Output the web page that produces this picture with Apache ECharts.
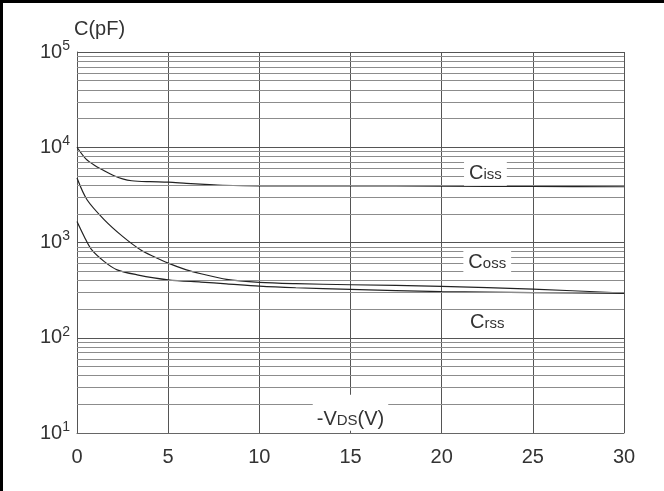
<!DOCTYPE html>
<html>
<head>
<meta charset="utf-8">
<script src="https://cdn.jsdelivr.net/npm/echarts@6/dist/echarts.min.js"></script>
<style>
  html, body { margin: 0; padding: 0; background: #fff; }
  #wrap { position: relative; width: 664px; height: 491px; }
  #chart { width: 664px; height: 491px; }
  #frame { position: absolute; left: 0; top: 0; width: 664px; height: 491px;
    border-left: 3px solid #000; border-top: 3px solid #000; box-sizing: border-box; pointer-events: none; }
</style>
</head>
<body>
<div id="wrap">
  <div id="chart"></div>
  <div id="frame"></div>
</div>
<script>
  // -VDS (V) sample points and capacitance (pF)
  const cissV = [0, 0.5, 1, 1.5, 2, 2.5, 3, 4, 5, 6, 7, 8, 10, 15, 20, 25, 30]
  const ciss  = [10000, 7500, 6400, 5650, 5050, 4650, 4450, 4350, 4300, 4180, 4080, 3990, 3930, 3930, 3900, 3880, 3850]

  const cossV = [0, 0.55, 1.5, 2.5, 3.5, 4.2, 5, 6, 6.8, 8.2, 10, 12, 15, 20, 25, 30]
  const coss  = [4750, 2810, 1730, 1160, 834, 713, 607, 516, 470, 410, 382, 370, 360, 347, 324, 295]

  const crssV = [0, 0.4, 0.8, 1.5, 2.2, 3.3, 5, 6.8, 8.2, 10, 12, 15, 20, 25, 30]
  const crss  = [1660, 1150, 840, 630, 516, 458, 406, 384, 368, 348, 335, 322, 305, 298, 292]

  // log grid: decades and minor steps inside each decade
  const decades = [10, 100, 1000, 10000]
  const minorSteps = [2, 3, 4, 5, 6, 7, 8, 9]

  // curve labels: [x, y, name, subscript]
  const curveLabels = [
    [22.4, 5270, 'C', 'iss'],
    [22.5, 614, 'C', 'oss'],
    [22.5, 144, 'C', 'rss']
  ]

  const font = 'Liberation Sans, Arial, sans-serif'
  const textColor = '#333'

  function pairs(xs, ys) {
    let out = []
    for (let i = 0; i < xs.length; i++) out.push([xs[i], ys[i]])
    return out
  }

  let minorLines = []
  decades.forEach(function(d) {
    minorSteps.forEach(function(m) {
      minorLines.push({ yAxis: d * m })
    })
  })

  const curveStyle = {
    type: 'line',
    smooth: 0.3,
    showSymbol: false,
    symbol: 'none',
    z: 4,
    lineStyle: { color: '#222', width: 1.2 }
  }

  const chart = echarts.init(document.getElementById('chart'))
  chart.setOption({
    animation: false,
    grid: { left: 77, right: 40, top: 52, bottom: 58 },
    xAxis: {
      type: 'value',
      min: 0,
      max: 30,
      interval: 5,
      axisLine: { show: true, lineStyle: { color: '#666', width: 1 } },
      axisTick: { show: false },
      axisLabel: { color: textColor, fontSize: 20, fontFamily: font, margin: 14 },
      splitLine: { show: true, lineStyle: { color: '#555', width: 1 } }
    },
    yAxis: {
      type: 'log',
      logBase: 10,
      min: 10,
      max: 100000,
      name: 'C(pF)',
      nameLocation: 'end',
      nameGap: 7,
      nameTextStyle: { color: textColor, fontSize: 20, fontFamily: font, align: 'left', padding: [0, 0, 0, -3] },
      axisLine: { show: true, lineStyle: { color: '#555', width: 1 } },
      axisTick: { show: false },
      axisLabel: {
        margin: 7,
        formatter: function(v) {
          return '{b|10}{s|' + Math.round(Math.log10(v)) + '}'
        },
        rich: {
          b: { color: textColor, fontSize: 20, fontFamily: font, verticalAlign: 'bottom', lineHeight: 20 },
          s: { color: textColor, fontSize: 14, fontFamily: font, verticalAlign: 'bottom', lineHeight: 20, padding: [0, 0, 9, 0] }
        }
      },
      splitLine: { show: true, lineStyle: { color: '#555', width: 1 } }
    },
    series: [
      {
        // axis title sitting in the plot, white box breaks the 15 V line
        type: 'scatter',
        data: [],
        z: 1,
        silent: true,
        markPoint: {
          symbol: 'circle',
          symbolSize: 0,
          silent: true,
          label: {
            show: true,
            position: 'inside',
            backgroundColor: '#fff',
            padding: [13, 4, 1, 4],
            formatter: '{a|-V}{b|DS}{a|(V)}',
            rich: {
              a: { color: textColor, fontSize: 20, fontFamily: font, verticalAlign: 'bottom', lineHeight: 22 },
              b: { color: textColor, fontSize: 15, fontFamily: font, verticalAlign: 'bottom', lineHeight: 22, padding: [0, 0, 1, 0] }
            }
          },
          data: [{ coord: [15, 16.3] }]
        }
      },
      {
        // minor log grid lines
        type: 'line',
        data: [],
        z: 3,
        silent: true,
        markLine: {
          silent: true,
          symbol: 'none',
          animation: false,
          label: { show: false },
          lineStyle: { color: '#8c8c8c', width: 1.2, type: 'solid' },
          data: minorLines
        }
      },
      Object.assign({ name: 'Ciss', data: pairs(cissV, ciss) }, curveStyle),
      Object.assign({ name: 'Coss', data: pairs(cossV, coss) }, curveStyle),
      Object.assign({ name: 'Crss', data: pairs(crssV, crss) }, curveStyle),
      {
        type: 'scatter',
        data: [],
        z: 6,
        silent: true,
        markPoint: {
          symbol: 'circle',
          symbolSize: 0,
          silent: true,
          label: {
            show: true,
            position: 'inside',
            backgroundColor: '#fff',
            padding: [2, 5, 2, 5],
            formatter: function(p) {
              return '{a|' + p.data.main + '}{b|' + p.data.sub + '}'
            },
            rich: {
              a: { color: textColor, fontSize: 20, fontFamily: font, verticalAlign: 'bottom', lineHeight: 20 },
              b: { color: textColor, fontSize: 15, fontFamily: font, verticalAlign: 'bottom', lineHeight: 20, padding: [0, 0, 1, 0] }
            }
          },
          data: curveLabels.map(function(l) {
            return { coord: [l[0], l[1]], main: l[2], sub: l[3] }
          })
        }
      }
    ]
  })
</script>
</body>
</html>
